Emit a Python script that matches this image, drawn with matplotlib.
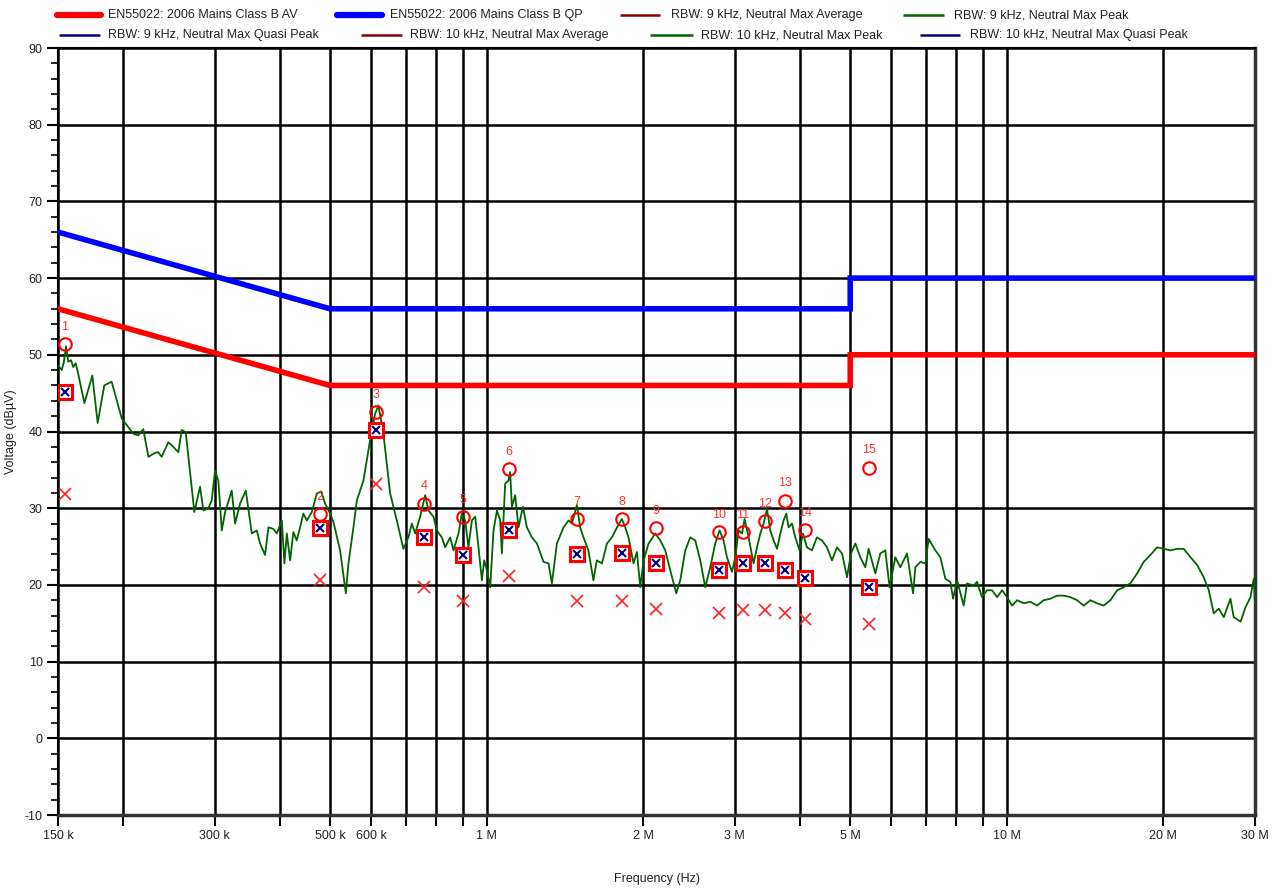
import matplotlib
matplotlib.use("Agg")
import matplotlib.pyplot as plt
from matplotlib.lines import Line2D
from matplotlib.ticker import FixedLocator, NullFormatter
import numpy as np

plt.rcParams['font.family'] = ['Liberation Sans', 'DejaVu Sans']

# ---------------- data ----------------
limit_freq_mhz = [0.15, 0.5, 5.0, 5.0, 30.0]
limit_av_db = [56, 46, 46, 50, 50]
limit_qp_db = [66, 56, 56, 60, 60]

trace_freq_mhz = [
    0.1502, 0.1525, 0.1540, 0.1554, 0.1570, 0.1589, 0.1605, 0.1622, 0.1637, 0.1686,
    0.1746, 0.1788, 0.1841, 0.1902, 0.1989, 0.2094, 0.2140, 0.2188, 0.2238, 0.2304,
    0.2338, 0.2373, 0.2445, 0.2499, 0.2555, 0.2594, 0.2640, 0.2743, 0.2813, 0.2855,
    0.2918, 0.2962, 0.3006, 0.3050, 0.3097, 0.3143, 0.3237, 0.3285, 0.3358, 0.3444,
    0.3537, 0.3616, 0.3669, 0.3751, 0.3807, 0.3891, 0.3951, 0.4040, 0.4086, 0.4130,
    0.4191, 0.4252, 0.4316, 0.4380, 0.4444, 0.4512, 0.4613, 0.4716, 0.4807, 0.4893,
    0.5003, 0.5076, 0.5229, 0.5363, 0.5425, 0.5547, 0.5630, 0.5797, 0.5972, 0.6105,
    0.6195, 0.6334, 0.6525, 0.6721, 0.6920, 0.7075, 0.7182, 0.7288, 0.7452, 0.7620,
    0.7731, 0.7903, 0.8024, 0.8203, 0.8324, 0.8510, 0.8636, 0.8829, 0.8962, 0.9095,
    0.9228, 0.9369, 0.9507, 0.9648, 0.9794, 0.9894, 1.0013, 1.0162, 1.0311, 1.0469,
    1.0619, 1.0700, 1.0856, 1.1017, 1.1099, 1.1184, 1.1348, 1.1517, 1.1745, 1.1953,
    1.2221, 1.2495, 1.2866, 1.3153, 1.3352, 1.3650, 1.4055, 1.4369, 1.4588, 1.4914,
    1.5132, 1.5355, 1.5693, 1.6044, 1.6286, 1.6662, 1.7035, 1.7416, 1.7807, 1.8200,
    1.8470, 1.8740, 1.9160, 1.9453, 1.9739, 2.0034, 2.0483, 2.1099, 2.1570, 2.2052,
    2.2545, 2.3155, 2.3567, 2.4094, 2.4633, 2.5184, 2.5747, 2.6323, 2.6912, 2.7514,
    2.8045, 2.8547, 2.8979, 2.9630, 3.0063, 3.0510, 3.0971, 3.1330, 3.1890, 3.2600,
    3.3100, 3.3585, 3.4078, 3.4600, 3.5100, 3.5630, 3.6170, 3.6700, 3.7230, 3.7680,
    3.8060, 3.8640, 3.9210, 3.9960, 4.0560, 4.1290, 4.2210, 4.3150, 4.4130, 4.5120,
    4.6120, 4.7160, 4.8220, 4.9300, 5.0180, 5.1150, 5.2290, 5.3460, 5.4250, 5.5880,
    5.7120, 5.8400, 5.9520, 6.1050, 6.2420, 6.4300, 6.6040, 6.6720, 6.8210, 6.9740,
    7.0770, 7.2890, 7.4520, 7.6190, 7.7900, 7.8840, 8.0250, 8.2620, 8.3870, 8.6370,
    8.7660, 8.9620, 9.1640, 9.3690, 9.5790, 9.7930, 10.012, 10.235, 10.467, 10.776,
    11.099, 11.433, 11.772, 12.127, 12.493, 12.864, 13.255, 13.650, 14.055, 14.478,
    14.915, 15.357, 15.819, 16.297, 16.781, 17.283, 17.805, 18.333, 18.884, 19.455,
    20.03, 20.63, 21.26, 21.88, 22.55, 23.22, 23.91, 24.45, 24.99, 25.55,
    26.13, 26.91, 27.30, 28.14, 28.77, 29.40, 29.84, 30.0,
]
trace_peak_db = [
    48.6, 48.0, 49.1, 51.1, 49.1, 49.3, 48.4, 48.9, 47.8, 43.7,
    47.3, 41.1, 46.0, 46.5, 41.7, 39.7, 39.5, 40.3, 36.7, 37.2,
    37.3, 36.7, 38.6, 38.0, 37.3, 40.2, 39.9, 29.5, 32.8, 29.7,
    30.0, 31.0, 34.9, 33.6, 27.1, 29.5, 32.3, 28.0, 30.6, 32.3,
    26.7, 27.1, 25.4, 23.9, 27.5, 27.3, 26.7, 28.4, 22.8, 26.7,
    23.2, 26.9, 25.8, 27.5, 29.3, 28.4, 29.5, 31.9, 32.2, 30.6,
    29.3, 28.2, 24.5, 18.9, 22.8, 27.5, 31.0, 33.6, 38.9, 42.3,
    43.4, 39.7, 31.9, 28.4, 24.7, 26.2, 28.0, 26.7, 28.9, 31.7,
    29.7, 28.9, 27.1, 26.2, 24.9, 26.2, 24.5, 26.7, 29.3, 28.4,
    24.9, 28.4, 28.9, 24.9, 20.6, 23.2, 21.9, 19.7, 27.1, 29.7,
    28.4, 24.1, 33.2, 33.6, 34.7, 30.2, 31.7, 27.5, 30.2, 27.5,
    26.2, 25.4, 23.0, 22.8, 20.2, 25.4, 27.5, 28.4, 28.0, 30.4,
    27.5, 26.2, 24.5, 20.6, 23.2, 22.8, 25.4, 26.2, 27.5, 28.6,
    27.5, 26.2, 22.8, 24.3, 19.7, 23.2, 25.4, 26.7, 25.8, 24.5,
    21.9, 18.9, 20.6, 24.5, 26.2, 25.8, 23.2, 19.7, 22.3, 25.4,
    27.1, 25.8, 23.6, 21.7, 23.6, 27.1, 26.7, 28.6, 26.2, 22.8,
    24.9, 26.7, 28.0, 29.9, 27.1, 25.8, 24.7, 26.7, 28.4, 29.3,
    27.5, 28.0, 26.2, 24.5, 26.7, 24.9, 24.5, 26.2, 25.8, 24.9,
    23.2, 24.9, 24.1, 21.0, 24.1, 25.4, 23.6, 22.3, 24.7, 21.5,
    24.1, 24.5, 19.7, 23.6, 22.3, 24.1, 18.9, 22.3, 23.0, 22.8,
    26.0, 24.5, 23.6, 20.8, 20.4, 18.2, 20.6, 17.3, 20.2, 19.9,
    20.4, 18.4, 19.3, 19.3, 18.4, 19.3, 18.4, 17.3, 18.0, 17.6,
    17.8, 17.3, 18.0, 18.2, 18.6, 18.6, 18.4, 18.0, 17.3, 18.0,
    17.6, 17.3, 18.0, 19.3, 19.7, 20.2, 21.5, 23.0, 23.9, 24.9,
    24.7, 24.5, 24.7, 24.7, 23.6, 22.6, 21.0, 19.3, 16.3, 16.9,
    15.8, 18.2, 15.8, 15.2, 17.1, 18.4, 20.8, 17.6,
]

marker_ids = ["1", "2", "3", "4", "5", "6", "7", "8", "9", "10", "11", "12", "13", "14", "15"]
marker_freq_mhz = [0.1547, 0.478, 0.613, 0.758, 0.901, 1.105, 1.49, 1.82, 2.12,
                   2.80, 3.11, 3.43, 3.75, 4.10, 5.44]
marker_peak_db = [51.4, 29.2, 42.5, 30.6, 28.8, 35.1, 28.6, 28.6, 27.4,
                  26.9, 26.9, 28.3, 31.0, 27.1, 35.3]
marker_qp_db = [45.1, 27.4, 40.2, 26.2, 23.9, 27.1, 24.0, 24.1, 22.9,
                22.0, 22.8, 22.9, 22.0, 20.9, 19.7]
marker_av_db = [31.8, 20.7, 33.2, 19.7, 17.9, 21.1, 17.9, 17.9, 16.8,
                16.3, 16.7, 16.7, 16.4, 15.6, 14.9]

xtick_mhz = [0.15, 0.2, 0.3, 0.4, 0.5, 0.6, 0.7, 0.8, 0.9, 1, 2, 3, 4, 5, 6, 7, 8, 9, 10, 20, 30]
xtick_labels = ["150 k", "", "300 k", "", "500 k", "600 k", "", "", "", "1 M", "2 M", "3 M", "",
                "5 M", "", "", "", "", "10 M", "20 M", "30 M"]
ytick_values = [-10, 0, 10, 20, 30, 40, 50, 60, 70, 80, 90]
ytick_minor = [v for v in range(-10, 91, 2) if v % 10 != 0]

legend_labels = [
    "EN55022: 2006 Mains Class B AV", "EN55022: 2006 Mains Class B QP",
    "RBW: 9 kHz, Neutral Max Average", "RBW: 9 kHz, Neutral Max Peak",
    "RBW: 9 kHz, Neutral Max Quasi Peak", "RBW: 10 kHz, Neutral Max Average",
    "RBW: 10 kHz, Neutral Max Peak", "RBW: 10 kHz, Neutral Max Quasi Peak",
]

# ---------------- figure ----------------
W, H = 1283, 889
fig = plt.figure(figsize=(W / 100, H / 100), dpi=100)
ax = fig.add_axes([58 / W, 1 - 815 / H, 1197 / W, 767 / H])

def hz(v):
    return np.asarray(v) * 1e6

ax.set_xscale('log')
ax.set_xlim(0.15e6, 30e6)
ax.set_ylim(-10, 90)

ax.xaxis.set_major_locator(FixedLocator(hz(xtick_mhz)))
ax.xaxis.set_minor_locator(FixedLocator([]))
ax.set_xticklabels(xtick_labels)
ax.xaxis.set_minor_formatter(NullFormatter())
ax.yaxis.set_major_locator(FixedLocator(ytick_values))
ax.yaxis.set_minor_locator(FixedLocator(ytick_minor))
ax.set_yticklabels([str(v) for v in ytick_values])
ax.tick_params(axis='both', which='major', length=8, width=1.5, direction='out',
               labelsize=9, colors='black', labelcolor='#222222', pad=3)
ax.tick_params(axis='y', which='minor', length=5, width=1.2, direction='out')

ax.grid(True, which='major', color='black', linewidth=1.8, zorder=0)
ax.set_axisbelow(True)
for s in ['left', 'top']:
    ax.spines[s].set_linewidth(1.5)
for s in ['bottom', 'right']:
    ax.spines[s].set_linewidth(2.5)
    ax.spines[s].set_color('#333333')

ax.set_xlabel("Frequency (Hz)", fontsize=9, color='#222222')
ax.xaxis.set_label_coords(0.5, -0.075)
ax.set_ylabel("Voltage (dBµV)", fontsize=9, color='#222222')
ax.yaxis.set_label_coords(-0.034, 0.5)

ax.plot(hz(limit_freq_mhz), limit_av_db, color='#ff0000', lw=4, zorder=3, solid_joinstyle='miter')
ax.plot(hz(limit_freq_mhz), limit_qp_db, color='#0000ff', lw=4, zorder=3, solid_joinstyle='miter')
ax.plot(hz(trace_freq_mhz), trace_peak_db, color='#006400', lw=1.3, zorder=4)

mf = hz(marker_freq_mhz)
ax.plot(mf, marker_av_db, ls='none', marker='x', ms=9, mew=1.2, color='#ff2020', zorder=5)
ax.plot(mf, marker_qp_db, ls='none', marker='s', ms=10, mew=2.2, mfc='white', mec='#ff0000', zorder=5)
ax.plot(mf, marker_qp_db, ls='none', marker='x', ms=6, mew=1.5, color='#000080', zorder=6)
ax.plot(mf, marker_peak_db, ls='none', marker='o', ms=9, mew=1.5, mfc='none', mec='#ff0000', zorder=6)
for lab, f, v in zip(marker_ids, mf, marker_peak_db):
    ax.annotate(lab, (f, v), xytext=(0, 8), textcoords='offset points', ha='center',
                va='bottom', color='#ff3030', fontsize=9, zorder=7)

# ---------------- legend (manual, two rows) ----------------
leg_styles = [('#ff0000', 4.5), ('#0000ff', 4.5), ('#8b0000', 1.8), ('#006400', 1.8),
              ('#000080', 1.8), ('#8b0000', 1.8), ('#006400', 1.8), ('#000080', 1.8)]
leg_pos = [(57, 101, 108, 15), (337, 382, 390, 15), (620, 660, 671, 15), (903, 944, 954, 15),
           (59, 100, 108, 35), (361, 402, 410, 35), (650, 693, 701, 35), (920, 960, 970, 35)]
for (c, lw), (x0, x1, xt, yy), lab in zip(leg_styles, leg_pos, legend_labels):
    fig.add_artist(Line2D([x0 / W, x1 / W], [1 - yy / H, 1 - yy / H], color=c, lw=lw,
                          solid_capstyle='round' if lw > 3 else 'butt'))
    fig.text(xt / W, 1 - yy / H, lab, fontsize=9, va='center', ha='left', color='#222222')

fig.savefig("out.png", dpi=100)
